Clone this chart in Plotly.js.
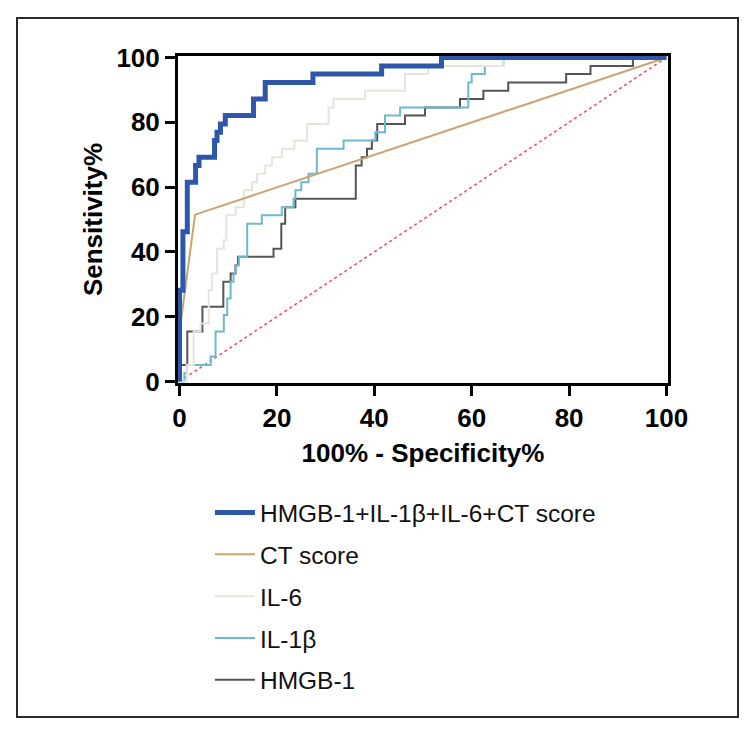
<!DOCTYPE html>
<html>
<head>
<meta charset="utf-8">
<script src="https://cdn.plot.ly/plotly-3.0.1.min.js"></script>
<style>
  body { margin: 0; background: #fff; }
  #chart { width: 753px; height: 732px; }
  #frame { position: absolute; left: 16px; top: 17px; width: 719px; height: 697px;
           border: 2px solid #2a2a2a; pointer-events: none; }
</style>
</head>
<body>
<div id="chart"></div>
<div id="frame"></div>
<script>
// ROC curves: x = 100% - Specificity%, y = Sensitivity%
const seriesNames = ["HMGB-1+IL-1β+IL-6+CT score", "CT score", "IL-6", "IL-1β", "HMGB-1"];

const combinedX = [0, 0, 0.7, 1.6, 3.3, 4.0, 7.2, 7.7, 8.4, 9.4, 15.2, 17.6, 27.4, 41.5, 53.8, 100];
const combinedY = [0, 28.2, 46.2, 61.5, 66.7, 69.2, 74.4, 76.9, 79.5, 82.1, 87.2, 92.3, 94.9, 97.4, 100, 100];

const ctX = [0, 0, 3.2, 100];
const ctY = [0, 15.4, 51.5, 100];

const il6X = [0, 1.5, 2.9, 4.3, 6.0, 6.7, 7.7, 9.1, 9.6, 11.5, 13.2, 14.9, 15.9, 17.6, 19.0, 21.0, 23.6, 26.2, 30.6, 31.6, 38.1, 46.3, 51.1, 66.5, 100];
const il6Y = [0, 5.1, 15.4, 17.9, 28.2, 33.3, 41.0, 43.6, 51.3, 53.8, 59.0, 61.5, 64.1, 66.7, 69.2, 71.8, 74.4, 79.5, 84.6, 87.2, 89.7, 94.9, 97.4, 100, 100];

const il1bX = [0, 1.0, 1.5, 6.4, 7.4, 9.1, 9.8, 10.5, 11.1, 11.5, 12.2, 13.9, 16.9, 21.0, 23.4, 23.8, 25.0, 26.5, 28.2, 33.7, 40.2, 42.2, 45.3, 59.3, 60.0, 62.7, 66.5, 100];
const il1bY = [0, 2.6, 5.1, 7.7, 15.4, 20.5, 25.6, 30.8, 33.3, 35.9, 38.5, 48.7, 51.3, 53.8, 56.4, 59.0, 61.5, 64.1, 71.8, 74.4, 76.9, 82.1, 84.6, 92.3, 94.9, 97.4, 100, 100];

const hmgbX = [0, 0, 1.6, 4.7, 9.0, 10.5, 11.5, 12.0, 19.3, 20.9, 21.7, 23.8, 36.2, 37.4, 38.5, 39.5, 40.6, 46.3, 50.4, 57.6, 62.4, 67.5, 79.4, 84.4, 93.1, 100];
const hmgbY = [0, 5.1, 15.4, 23.1, 30.8, 33.3, 35.9, 38.5, 41.0, 48.7, 53.8, 56.4, 66.7, 69.2, 71.8, 74.4, 79.5, 82.1, 84.6, 87.2, 89.7, 92.3, 94.9, 97.4, 100, 100];

const refX = [0, 100];
const refY = [0, 100];

const tickVals = [0, 20, 40, 60, 80, 100];
const tickText = ["0", "20", "40", "60", "80", "100"];

const FONT = 'Arial, "Liberation Sans", sans-serif';

const traces = [
  { x: refX, y: refY, mode: 'lines', showlegend: false, hoverinfo: 'skip',
    line: { color: '#F0506E', width: 1.6, dash: 'dot' } },
  { x: hmgbX, y: hmgbY, name: seriesNames[4], mode: 'lines', legendgroup: 'g5', legendrank: 5,
    line: { color: '#555555', width: 2, shape: 'hv' } },
  { x: il1bX, y: il1bY, name: seriesNames[3], mode: 'lines', legendgroup: 'g4', legendrank: 4,
    line: { color: '#6CB9CF', width: 2, shape: 'hv' } },
  { x: il6X, y: il6Y, name: seriesNames[2], mode: 'lines', legendgroup: 'g3', legendrank: 3,
    line: { color: '#E6E4DB', width: 2, shape: 'hv' } },
  { x: ctX, y: ctY, name: seriesNames[1], mode: 'lines', legendgroup: 'g2', legendrank: 2,
    line: { color: '#C8A56F', width: 2 } },
  { x: combinedX, y: combinedY, name: seriesNames[0], mode: 'lines', legendgroup: 'g1', legendrank: 1,
    line: { color: '#2E56AA', width: 5, shape: 'hv' } }
];

const axisCommon = {
  tickvals: tickVals, ticktext: tickText,
  ticks: 'outside', ticklen: 10, tickwidth: 3, tickcolor: '#000',
  showline: true, linewidth: 3, linecolor: '#000', mirror: true,
  showgrid: false, zeroline: false, automargin: false,
  tickfont: { family: FONT, size: 26, color: '#000', weight: 'bold' }
};

const layout = {
  width: 753, height: 732,
  margin: { l: 178, r: 85, t: 56, b: 349, autoexpand: false },
  paper_bgcolor: '#fff', plot_bgcolor: '#fff',
  font: { family: FONT, color: '#000' },
  xaxis: Object.assign({}, axisCommon, {
    range: [-0.31, 100.31],
    title: { text: '100% - Specificity%', font: { family: FONT, size: 26, color: '#000', weight: 'bold' }, standoff: 12 }
  }),
  yaxis: Object.assign({}, axisCommon, {
    range: [-0.46, 100.46],
    title: { text: 'Sensitivity%', font: { family: FONT, size: 26, color: '#000', weight: 'bold' }, standoff: 7 }
  }),
  showlegend: true,
  legend: {
    traceorder: 'grouped', tracegroupgap: 7,
    x: (210 - 178) / 491, y: (383 - 490) / 327, xanchor: 'left', yanchor: 'top',
    font: { family: FONT, size: 24.5, color: '#111' },
    bgcolor: 'rgba(0,0,0,0)', itemwidth: 40
  }
};

Plotly.newPlot('chart', traces, layout, { displayModeBar: false, staticPlot: true });
</script>
</body>
</html>
